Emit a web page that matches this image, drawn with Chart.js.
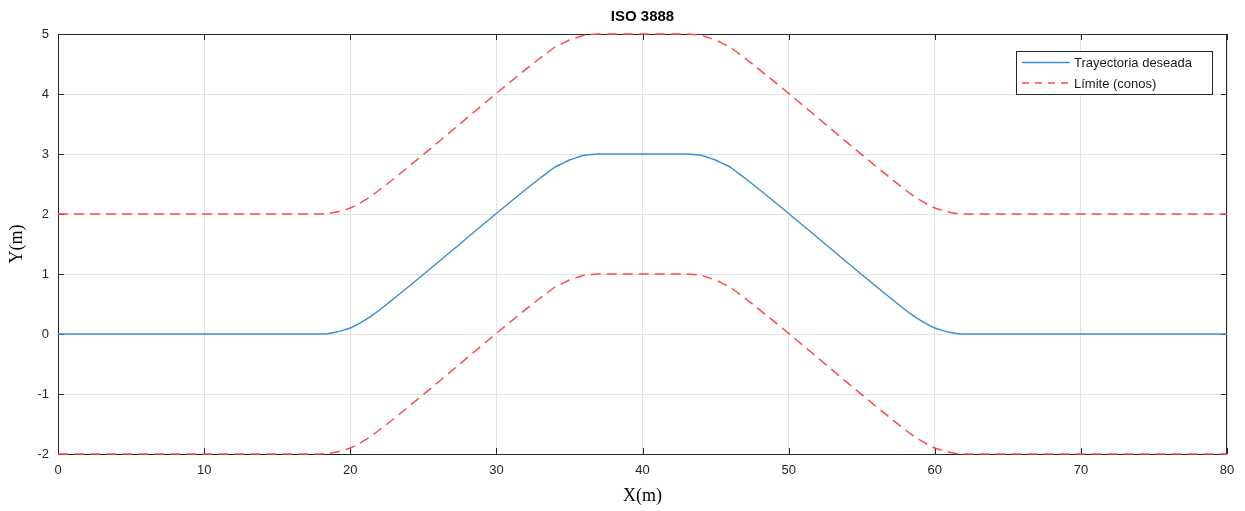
<!DOCTYPE html>
<html>
<head>
<meta charset="utf-8">
<script src="https://cdn.jsdelivr.net/npm/chart.js@4"></script>
<style>
  html, body { margin: 0; padding: 0; background: #fff; }
  #wrap { width: 1245px; height: 511px; position: relative; }
</style>
</head>
<body>
<div id="wrap"><canvas id="isoChart"></canvas></div>
<script>
// data
const xPoints = [0, 18, 18.5, 19, 19.5, 20, 20.5, 21, 21.5, 22,
  33, 33.5, 34, 34.5, 35, 35.5, 36, 36.5, 37,
  43, 43.5, 44, 44.5, 45, 45.5, 46, 46.5, 47,
  58, 58.5, 59, 59.5, 60, 60.5, 61, 61.5, 62, 80];

const trajectory = [0, 0, 0.01, 0.03, 0.06, 0.10, 0.16, 0.23, 0.31, 0.40,
  2.60, 2.69, 2.78, 2.84, 2.90, 2.94, 2.98, 2.99, 3.00,
  3.00, 2.99, 2.98, 2.94, 2.90, 2.84, 2.78, 2.69, 2.60,
  0.40, 0.31, 0.23, 0.16, 0.10, 0.06, 0.03, 0.01, 0, 0];

const upperLimit = [2, 2, 2.01, 2.03, 2.06, 2.10, 2.16, 2.23, 2.31, 2.40,
  4.60, 4.69, 4.78, 4.84, 4.90, 4.94, 4.98, 4.99, 5.00,
  5.00, 4.99, 4.98, 4.94, 4.90, 4.84, 4.78, 4.69, 4.60,
  2.40, 2.31, 2.23, 2.16, 2.10, 2.06, 2.03, 2.01, 2, 2];

const lowerLimit = [-2, -2, -1.99, -1.97, -1.94, -1.90, -1.84, -1.77, -1.69, -1.60,
  0.60, 0.69, 0.78, 0.84, 0.90, 0.94, 0.98, 0.99, 1.00,
  1.00, 0.99, 0.98, 0.94, 0.90, 0.84, 0.78, 0.69, 0.60,
  -1.60, -1.69, -1.77, -1.84, -1.90, -1.94, -1.97, -1.99, -2, -2];

const xTicks = [0, 10, 20, 30, 40, 50, 60, 70, 80];
const yTicks = [-2, -1, 0, 1, 2, 3, 4, 5];
const seriesLabels = ['Trayectoria deseada', 'Límite (conos)'];

const axisColor = '#262626';
const blue = '#3a8fd2';
const red = '#ff4a4a';

function toPoints(ys) {
  return xPoints.map((x, i) => ({ x: x, y: ys[i] }));
}

// box + inward ticks go under the lines, like MATLAB
const matlabBox = {
  id: 'matlabBox',
  beforeDatasetsDraw(chart) {
    const ctx = chart.ctx;
    const a = chart.chartArea;
    const xs = chart.scales.x;
    const ys = chart.scales.y;
    ctx.save();
    ctx.strokeStyle = axisColor;
    ctx.lineWidth = 1;
    ctx.strokeRect(Math.round(a.left) + 0.5, Math.round(a.top) + 0.5,
      Math.round(a.right - a.left) - 1, Math.round(a.bottom - a.top));

    ctx.beginPath();
    xTicks.forEach(v => {
      const px = Math.round(xs.getPixelForValue(v)) + 0.5;
      ctx.moveTo(px, a.bottom); ctx.lineTo(px, a.bottom - 6);
      ctx.moveTo(px, a.top); ctx.lineTo(px, a.top + 6);
    });
    yTicks.forEach(v => {
      const py = Math.round(ys.getPixelForValue(v)) + 0.5;
      ctx.moveTo(a.left, py); ctx.lineTo(a.left + 6, py);
      ctx.moveTo(a.right, py); ctx.lineTo(a.right - 6, py);
    });
    ctx.stroke();
    ctx.restore();
  }
};

// titles and legend
const matlabText = {
  id: 'matlabText',
  afterDraw(chart) {
    const ctx = chart.ctx;
    const a = chart.chartArea;
    ctx.save();

    ctx.fillStyle = '#000';
    ctx.font = 'bold 15px "Liberation Sans", Arial, sans-serif';
    ctx.textAlign = 'center';
    ctx.textBaseline = 'middle';
    ctx.fillText('ISO 3888', (a.left + a.right) / 2, 17);

    ctx.font = '18px "Liberation Serif", "Times New Roman", serif';
    ctx.fillText('X(m)', (a.left + a.right) / 2, 496);
    ctx.save();
    ctx.translate(17, (a.top + a.bottom) / 2);
    ctx.rotate(-Math.PI / 2);
    ctx.fillText('Y(m)', 0, 0);
    ctx.restore();

    const lx = 1016, ly = 51, lw = 196, lh = 43;
    ctx.fillStyle = '#fff';
    ctx.fillRect(lx, ly, lw, lh);
    ctx.strokeStyle = axisColor;
    ctx.lineWidth = 1;
    ctx.strokeRect(lx + 0.5, ly + 0.5, lw, lh);
    ctx.font = '13px "Liberation Sans", Arial, sans-serif';
    ctx.textAlign = 'left';
    seriesLabels.forEach((label, i) => {
      const ds = chart.data.datasets[i];
      const rowY = 62.5 + i * 20.5;
      ctx.strokeStyle = ds.borderColor;
      ctx.lineWidth = 1.5;
      ctx.setLineDash(i === 1 ? [7, 6] : []);
      ctx.beginPath();
      ctx.moveTo(1022, rowY);
      ctx.lineTo(1070, rowY);
      ctx.stroke();
      ctx.setLineDash([]);
      ctx.fillStyle = '#1a1a1a';
      ctx.fillText(label, 1074, rowY + 1);
    });
    ctx.restore();
  }
};

const lineStyle = {
  borderWidth: 1.5,
  pointRadius: 0,
  cubicInterpolationMode: 'monotone',
  clip: 3
};

new Chart(document.getElementById('isoChart'), {
  type: 'line',
  data: {
    datasets: [
      Object.assign({ label: seriesLabels[0], data: toPoints(trajectory), borderColor: blue }, lineStyle),
      Object.assign({ label: seriesLabels[1], data: toPoints(upperLimit), borderColor: red, borderDash: [10, 6] }, lineStyle),
      Object.assign({ label: 'lower', data: toPoints(lowerLimit), borderColor: red, borderDash: [10, 6] }, lineStyle)
    ]
  },
  options: {
    responsive: true,
    maintainAspectRatio: false,
    animation: false,
    layout: { padding: { top: 34, right: 18, left: 0, bottom: 0 } },
    plugins: {
      legend: { display: false },
      tooltip: { enabled: false },
      title: { display: false }
    },
    scales: {
      x: {
        type: 'linear',
        min: 0,
        max: 80,
        afterFit: s => { s.height = 57; },
        afterBuildTicks: s => { s.ticks = xTicks.map(v => ({ value: v })); },
        grid: { color: '#e3e3e3', drawTicks: false },
        border: { display: false },
        ticks: {
          color: axisColor,
          padding: 9,
          maxRotation: 0,
          font: { family: '"Liberation Sans", Arial, sans-serif', size: 13 }
        }
      },
      y: {
        type: 'linear',
        min: -2,
        max: 5,
        afterFit: s => { s.width = 58; },
        afterBuildTicks: s => { s.ticks = yTicks.map(v => ({ value: v })); },
        grid: { color: '#e3e3e3', drawTicks: false },
        border: { display: false },
        ticks: {
          color: axisColor,
          padding: 9,
          font: { family: '"Liberation Sans", Arial, sans-serif', size: 13 }
        }
      }
    }
  },
  plugins: [matlabBox, matlabText]
});
</script>
</body>
</html>
